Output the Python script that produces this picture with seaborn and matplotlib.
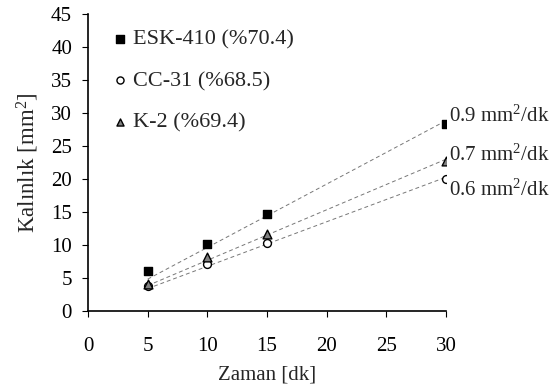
import numpy as np
import pandas as pd
import matplotlib
matplotlib.use("Agg")
import matplotlib.pyplot as plt
import seaborn as sns

# Measured thickness over time for three samples
zaman = [5, 10, 15, 30]
esk_410 = [6.0, 10.2, 14.7, 28.3]
cc_31 = [3.8, 7.1, 10.3, 20.0]
k_2 = [4.1, 8.1, 11.7, 22.7]

series_names = ["ESK-410 (%70.4)", "CC-31 (%68.5)", "K-2 (%69.4)"]
series_values = [esk_410, cc_31, k_2]
rate_labels = ["0.9 mm$^2$/dk", "0.6 mm$^2$/dk", "0.7 mm$^2$/dk"]

df = pd.DataFrame({
    "Zaman": zaman * 3,
    "Kalinlik": esk_410 + cc_31 + k_2,
    "Seri": sum([[n] * len(zaman) for n in series_names], []),
})

sns.set_style("ticks")
plt.rcParams["font.family"] = ["Liberation Serif", "STIXGeneral", "DejaVu Serif"]
plt.rcParams["mathtext.fontset"] = "custom"
plt.rcParams["mathtext.rm"] = "Liberation Serif"
plt.rcParams["mathtext.it"] = "Liberation Serif:italic"

fig = plt.figure(figsize=(5.57, 3.92), dpi=100)
ax = fig.add_axes([0.158, 0.207, 0.6427, 0.757])

# Least-squares lines through the origin, drawn over the measured range
x_arr = np.array(zaman, dtype=float)
for vals in series_values:
    y_arr = np.array(vals)
    slope = (x_arr * y_arr).sum() / (x_arr ** 2).sum()
    xl = np.array([5, 30])
    ax.plot(xl, slope * xl, ls=(0, (4, 3)), color="#777777", lw=0.7, zorder=1)

palette = {series_names[0]: "black", series_names[1]: "white", series_names[2]: "#808080"}
markers = {series_names[0]: "s", series_names[1]: "o", series_names[2]: "^"}
sizes = {series_names[0]: 40, series_names[1]: 32, series_names[2]: 40}
for name in series_names:
    sub = df[df["Seri"] == name]
    sns.scatterplot(data=sub, x="Zaman", y="Kalinlik", color=palette[name],
                    marker=markers[name], s=sizes[name], edgecolor="black",
                    linewidth=1.0, ax=ax, label=name, zorder=3)

# Slope annotations at the last point
offsets = [(2, 6), (2, -8), (2, 4.5)]
for vals, txt, off in zip(series_values, rate_labels, offsets):
    ax.annotate(txt, xy=(zaman[-1], vals[-1]), xytext=off, textcoords="offset points",
                fontsize=15, ha="left", va="center", annotation_clip=False)

ax.set_xlim(0, 30)
ax.set_ylim(0, 45)
ax.set_xticks(range(0, 31, 5))
ax.set_yticks(range(0, 46, 5))
ax.tick_params(direction="out", length=4.5, width=0.8, labelsize=15, colors="black")
ax.tick_params(axis="x", pad=14)
ax.tick_params(axis="y", pad=7)
for side in ["top", "right"]:
    ax.spines[side].set_visible(False)
for side in ["left", "bottom"]:
    ax.spines[side].set_linewidth(1.2)
    ax.spines[side].set_color("black")

ax.set_xlabel("Zaman [dk]", fontsize=15, labelpad=7)
ax.set_ylabel("Kalınlık [mm$^2$]", fontsize=16.5, labelpad=7)

leg = ax.legend(loc="upper left", bbox_to_anchor=(0.075, 0.95), frameon=False,
                fontsize=16, handlelength=0.5, handletextpad=0.32,
                labelspacing=0.95, borderaxespad=0, borderpad=0)
for h in leg.legend_handles:
    h.set_sizes([26])

fig.savefig("out.png", dpi=100)
